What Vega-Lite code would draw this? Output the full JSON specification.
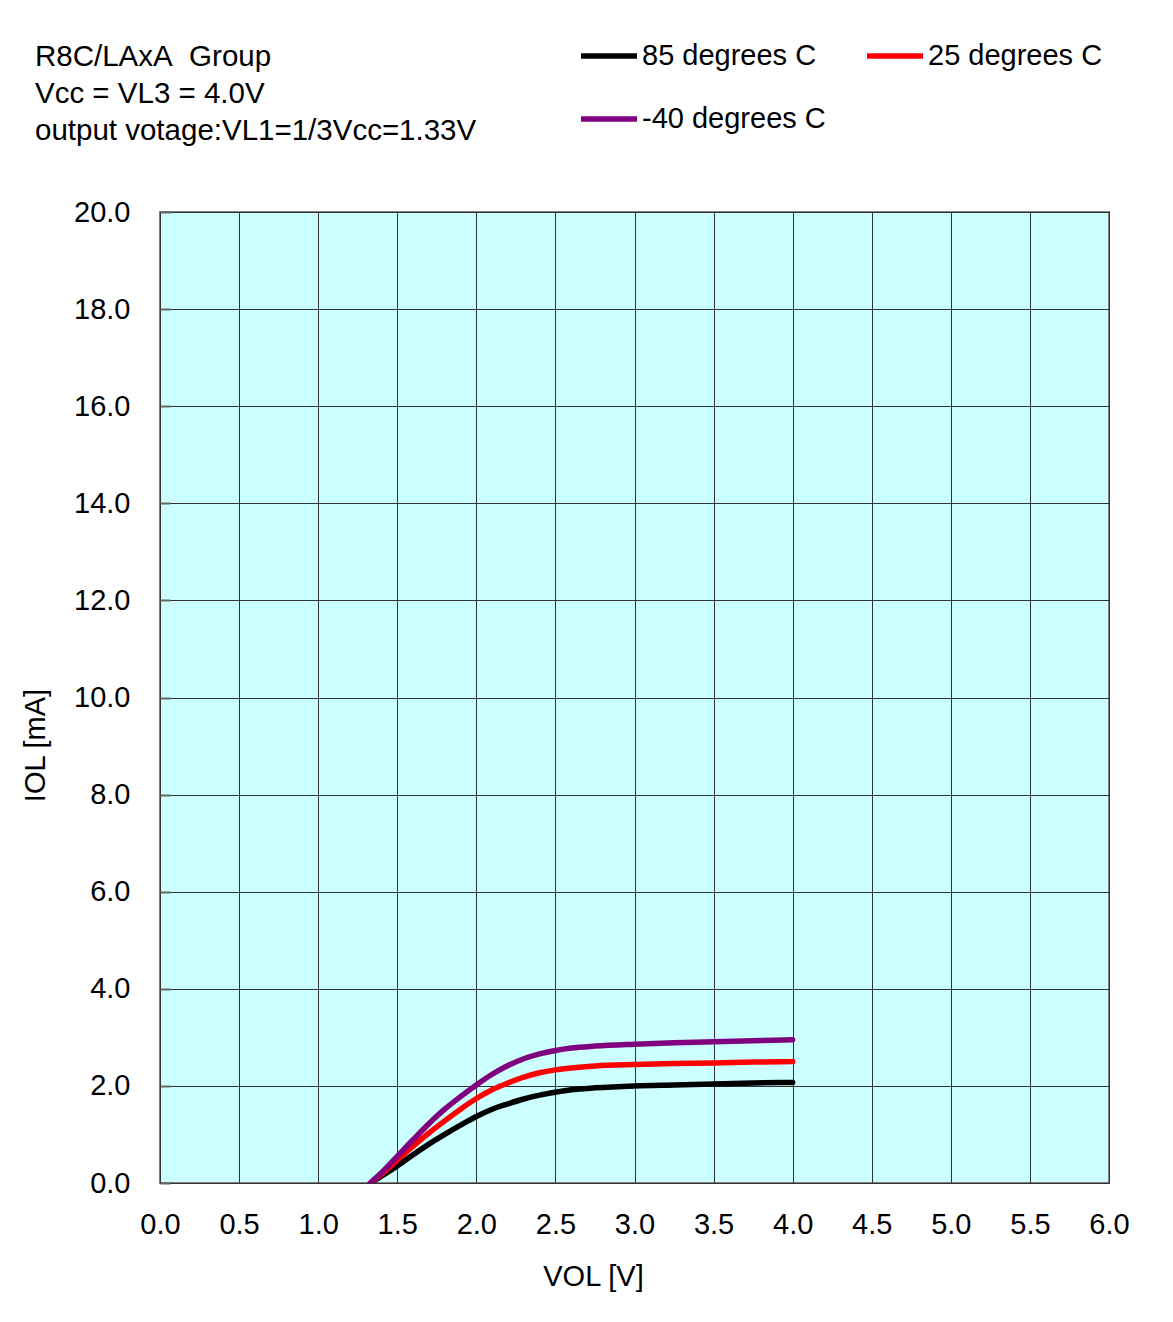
{
  "$schema": "https://vega.github.io/schema/vega-lite/v6.json",
  "width": 949,
  "height": 971,
  "autosize": {"type": "none"},
  "padding": {"left": 160, "top": 212, "right": 64, "bottom": 139},
  "background": "white",
  "title": {
    "text": ["R8C/LAxA\u00a0\u00a0Group", "Vcc = VL3 = 4.0V", "output votage:VL1=1/3Vcc=1.33V"],
    "anchor": "start",
    "frame": "group",
    "dx": -125,
    "dy": 121,
    "fontSize": 29.5,
    "font": "Liberation Sans",
    "fontWeight": "normal",
    "lineHeight": 37,
    "offset": 0,
    "color": "black"
  },
  "config": {
    "view": {"fill": "#CCFFFF", "stroke": "#808080", "strokeWidth": 2},
    "font": "Liberation Sans"
  },
  "data": {
    "values": [
      {"v": 1.33, "i": 0, "t": "85 degrees C"},
      {"v": 1.4, "i": 0.14, "t": "85 degrees C"},
      {"v": 1.5, "i": 0.35, "t": "85 degrees C"},
      {"v": 1.6, "i": 0.58, "t": "85 degrees C"},
      {"v": 1.7, "i": 0.8, "t": "85 degrees C"},
      {"v": 1.8, "i": 1.0, "t": "85 degrees C"},
      {"v": 1.9, "i": 1.19, "t": "85 degrees C"},
      {"v": 2.0, "i": 1.37, "t": "85 degrees C"},
      {"v": 2.1, "i": 1.52, "t": "85 degrees C"},
      {"v": 2.2, "i": 1.63, "t": "85 degrees C"},
      {"v": 2.3, "i": 1.73, "t": "85 degrees C"},
      {"v": 2.4, "i": 1.81, "t": "85 degrees C"},
      {"v": 2.5, "i": 1.87, "t": "85 degrees C"},
      {"v": 2.6, "i": 1.92, "t": "85 degrees C"},
      {"v": 2.75, "i": 1.96, "t": "85 degrees C"},
      {"v": 3.0, "i": 2.0, "t": "85 degrees C"},
      {"v": 3.25, "i": 2.02, "t": "85 degrees C"},
      {"v": 3.5, "i": 2.04, "t": "85 degrees C"},
      {"v": 3.75, "i": 2.06, "t": "85 degrees C"},
      {"v": 4.0, "i": 2.07, "t": "85 degrees C"},
      {"v": 1.33, "i": 0, "t": "25 degrees C"},
      {"v": 1.4, "i": 0.18, "t": "25 degrees C"},
      {"v": 1.5, "i": 0.47, "t": "25 degrees C"},
      {"v": 1.6, "i": 0.76, "t": "25 degrees C"},
      {"v": 1.7, "i": 1.03, "t": "25 degrees C"},
      {"v": 1.8, "i": 1.28, "t": "25 degrees C"},
      {"v": 1.9, "i": 1.52, "t": "25 degrees C"},
      {"v": 2.0, "i": 1.74, "t": "25 degrees C"},
      {"v": 2.1, "i": 1.92, "t": "25 degrees C"},
      {"v": 2.2, "i": 2.06, "t": "25 degrees C"},
      {"v": 2.3, "i": 2.18, "t": "25 degrees C"},
      {"v": 2.4, "i": 2.27, "t": "25 degrees C"},
      {"v": 2.5, "i": 2.33, "t": "25 degrees C"},
      {"v": 2.6, "i": 2.37, "t": "25 degrees C"},
      {"v": 2.75, "i": 2.41, "t": "25 degrees C"},
      {"v": 3.0, "i": 2.44, "t": "25 degrees C"},
      {"v": 3.25, "i": 2.46, "t": "25 degrees C"},
      {"v": 3.5, "i": 2.47, "t": "25 degrees C"},
      {"v": 3.75, "i": 2.49, "t": "25 degrees C"},
      {"v": 4.0, "i": 2.5, "t": "25 degrees C"},
      {"v": 1.33, "i": 0, "t": "-40 degrees C"},
      {"v": 1.4, "i": 0.21, "t": "-40 degrees C"},
      {"v": 1.5, "i": 0.55, "t": "-40 degrees C"},
      {"v": 1.6, "i": 0.89, "t": "-40 degrees C"},
      {"v": 1.7, "i": 1.22, "t": "-40 degrees C"},
      {"v": 1.8, "i": 1.52, "t": "-40 degrees C"},
      {"v": 1.9, "i": 1.78, "t": "-40 degrees C"},
      {"v": 2.0, "i": 2.02, "t": "-40 degrees C"},
      {"v": 2.1, "i": 2.24, "t": "-40 degrees C"},
      {"v": 2.2, "i": 2.42, "t": "-40 degrees C"},
      {"v": 2.3, "i": 2.56, "t": "-40 degrees C"},
      {"v": 2.4, "i": 2.66, "t": "-40 degrees C"},
      {"v": 2.5, "i": 2.73, "t": "-40 degrees C"},
      {"v": 2.6, "i": 2.78, "t": "-40 degrees C"},
      {"v": 2.75, "i": 2.82, "t": "-40 degrees C"},
      {"v": 3.0, "i": 2.86, "t": "-40 degrees C"},
      {"v": 3.25, "i": 2.89, "t": "-40 degrees C"},
      {"v": 3.5, "i": 2.91, "t": "-40 degrees C"},
      {"v": 3.75, "i": 2.93, "t": "-40 degrees C"},
      {"v": 4.0, "i": 2.95, "t": "-40 degrees C"}
    ]
  },
  "mark": {"type": "line", "strokeWidth": 5.5, "interpolate": "monotone", "strokeCap": "round", "clip": true},
  "encoding": {
    "x": {
      "field": "v",
      "type": "quantitative",
      "scale": {"domain": [0, 6], "nice": false, "zero": false},
      "axis": {
        "values": [0, 0.5, 1, 1.5, 2, 2.5, 3, 3.5, 4, 4.5, 5, 5.5, 6],
        "format": ".1f",
        "grid": true,
        "gridColor": "#333333",
        "gridWidth": 1,
        "gridOpacity": 1,
        "domain": false,
        "ticks": false,
        "labelFontSize": 29,
        "labelColor": "black",
        "labelPadding": 27,
        "labelFlush": false,
        "title": "VOL [V]",
        "titleFontSize": 29,
        "titleFontWeight": "normal",
        "titleColor": "black",
        "titleX": 433,
        "titleY": 102,
        "titleBaseline": "alphabetic"
      }
    },
    "y": {
      "field": "i",
      "type": "quantitative",
      "scale": {"domain": [0, 20], "nice": false},
      "axis": {
        "values": [0, 2, 4, 6, 8, 10, 12, 14, 16, 18, 20],
        "format": ".1f",
        "grid": true,
        "gridColor": "#333333",
        "gridWidth": 1,
        "gridOpacity": 1,
        "domain": false,
        "ticks": true,
        "tickSize": -10,
        "tickColor": "#666666",
        "tickWidth": 2,
        "labelFontSize": 29,
        "labelColor": "black",
        "labelPadding": 40,
        "labelFlush": false,
        "title": "IOL [mA]",
        "titleFontSize": 29,
        "titleFontWeight": "normal",
        "titleColor": "black",
        "titleAngle": -90,
        "titleX": -125,
        "titleY": 533,
        "titleAlign": "center",
        "titleBaseline": "middle"
      }
    },
    "color": {
      "field": "t",
      "type": "nominal",
      "sort": ["85 degrees C", "25 degrees C", "-40 degrees C"],
      "scale": {"domain": ["85 degrees C", "25 degrees C", "-40 degrees C"], "range": ["#000000", "#FF0000", "#800080"]},
      "legend": {
        "title": null,
        "orient": "none",
        "direction": "horizontal",
        "legendX": 418,
        "legendY": -187,
        "columns": 2,
        "columnPadding": 30,
        "rowPadding": 17,
        "padding": 0,
        "symbolType": "stroke",
        "symbolSize": 3136,
        "symbolStrokeWidth": 5.5,
        "labelFontSize": 29,
        "labelColor": "black",
        "labelOffset": 2,
        "labelLimit": 400
      }
    },
    "order": {"field": "t", "type": "nominal"}
  }
}
